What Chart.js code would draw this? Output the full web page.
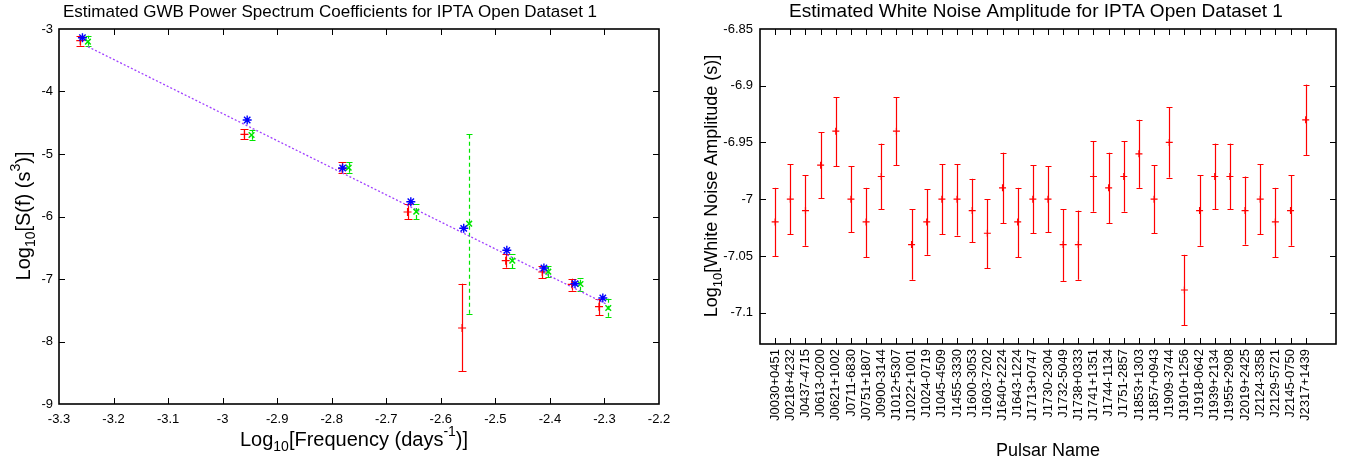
<!DOCTYPE html>
<html>
<head>
<meta charset="utf-8">
<script src="https://cdn.jsdelivr.net/npm/chart.js@4.4.1/dist/chart.umd.min.js"></script>
<style>
  html, body { margin:0; padding:0; background:#fff; }
  #wrap { position:relative; width:1357px; height:465px; overflow:hidden; }
  canvas { position:absolute; top:0; }
  #cL { left:0; }
  #cR { left:680px; }
</style>
</head>
<body>
<div id="wrap">
  <canvas id="cL" width="680" height="465"></canvas>
  <canvas id="cR" width="677" height="465"></canvas>
</div>
<script>
// ---------------- Left chart data (log10 frequency vs log10 S(f)) ----------------
const redX   = [-3.261, -2.960, -2.781, -2.661, -2.561, -2.481, -2.414, -2.360, -2.310];
const redY   = [-3.187, -4.685, -5.235, -5.928, -7.784, -6.707, -6.888, -7.085, -7.443];
const redLo  = [-3.267, -4.760, -5.309, -6.040, -8.477, -6.819, -6.984, -7.187, -7.581];
const redHi  = [-3.107, -4.605, -5.133, -5.806, -7.075, -6.605, -6.792, -6.995, -7.325];

const blueX  = [-3.257, -2.955, -2.780, -2.655, -2.558, -2.479, -2.411, -2.354, -2.303];
const blueY  = [-3.139, -4.456, -5.224, -5.763, -6.189, -6.541, -6.824, -7.075, -7.304];

const greenX  = [-3.247, -2.947, -2.769, -2.645, -2.548, -2.469, -2.403, -2.344, -2.293];
const greenY  = [-3.203, -4.696, -5.219, -5.923, -6.115, -6.707, -6.883, -7.080, -7.464];
const greenLo = [-3.267, -4.770, -5.300, -6.040, -7.555, -6.824, -6.971, -7.187, -7.603];
const greenHi = [-3.107, -4.610, -5.133, -5.800, -4.675, -6.600, -6.787, -6.989, -7.315];

const fitX = [-3.247, -2.296];
const fitY = [-3.283, -7.404];

const xTicksL = [-3.3, -3.2, -3.1, -3.0, -2.9, -2.8, -2.7, -2.6, -2.5, -2.4, -2.3, -2.2];
const yTicksL = [-9, -8, -7, -6, -5, -4, -3];

// ---------------- Right chart data (white noise amplitude per pulsar) ----------------
const pulsars = ["J0030+0451","J0218+4232","J0437-4715","J0613-0200","J0621+1002","J0711-6830",
  "J0751+1807","J0900-3144","J1012+5307","J1022+1001","J1024-0719","J1045-4509","J1455-3330",
  "J1600-3053","J1603-7202","J1640+2224","J1643-1224","J1713+0747","J1730-2304","J1732-5049",
  "J1738+0333","J1741+1351","J1744-1134","J1751-2857","J1853+1303","J1857+0943","J1909-3744",
  "J1910+1256","J1918-0642","J1939+2134","J1955+2908","J2019+2425","J2124-3358","J2129-5721",
  "J2145-0750","J2317+1439"];
const wnVal = [-7.02, -7.00, -7.01, -6.97, -6.94, -7.00, -7.02, -6.98, -6.94, -7.04, -7.02, -7.00,
  -7.00, -7.01, -7.03, -6.99, -7.02, -7.00, -7.00, -7.04, -7.04, -6.98, -6.99, -6.98, -6.96, -7.00,
  -6.95, -7.08, -7.01, -6.98, -6.98, -7.01, -7.00, -7.02, -7.01, -6.93];
const wnHi = [-6.990, -6.969, -6.979, -6.941, -6.910, -6.971, -6.990, -6.951, -6.910, -7.009, -6.991, -6.969,
  -6.969, -6.982, -7.000, -6.959, -6.990, -6.970, -6.971, -7.009, -7.010, -6.949, -6.959, -6.949, -6.930, -6.970,
  -6.919, -7.049, -6.979, -6.951, -6.951, -6.980, -6.969, -6.990, -6.979, -6.899];
const wnLo = [-7.050, -7.031, -7.041, -6.999, -6.971, -7.029, -7.051, -7.009, -6.970, -7.071, -7.049, -7.031,
  -7.032, -7.038, -7.061, -7.021, -7.051, -7.030, -7.029, -7.072, -7.071, -7.011, -7.021, -7.011, -6.990, -7.030,
  -6.981, -7.111, -7.041, -7.009, -7.009, -7.040, -7.031, -7.051, -7.041, -6.961];
const yTicksR = [-7.1, -7.05, -7.0, -6.95, -6.9, -6.85];

// ---------------- Texts ----------------
const titleL = "Estimated GWB Power Spectrum Coefficients for IPTA Open Dataset 1";
const titleR = "Estimated White Noise Amplitude for IPTA Open Dataset 1";
const xTitleL = [{t:"Log"},{t:"10",sub:true},{t:"[Frequency (days"},{t:"-1",sup:true},{t:")]"}];
const yTitleL = [{t:"Log"},{t:"10",sub:true},{t:"[S(f) (s"},{t:"3",sup:true},{t:")]"}];
const xTitleR = [{t:"Pulsar Name"}];
const yTitleR = [{t:"Log"},{t:"10",sub:true},{t:"[White Noise Amplitude (s)]"}];

const FONT = "'Liberation Sans', Arial, Helvetica, sans-serif";

function fmt(v){ return String(Number(v.toFixed(2))); }
function pts(xs, ys){ return xs.map((x,i)=>({x:x, y:ys[i]})); }

function drawRich(ctx, segs, x, y, size, rotate){
  ctx.save();
  ctx.translate(x, y);
  if (rotate) ctx.rotate(-Math.PI/2);
  ctx.textBaseline = 'middle';
  ctx.textAlign = 'left';
  ctx.fillStyle = '#000';
  const ws = segs.map(s => { ctx.font = ((s.sub||s.sup)? Math.round(size*0.7) : size) + 'px ' + FONT; return ctx.measureText(s.t).width; });
  let cx = -ws.reduce((a,b)=>a+b,0)/2;
  segs.forEach((s,i) => {
    ctx.font = ((s.sub||s.sup)? Math.round(size*0.7) : size) + 'px ' + FONT;
    const dy = s.sub ? size*0.38 : (s.sup ? -size*0.4 : 0);
    ctx.fillText(s.t, cx, dy);
    cx += ws[i];
  });
  ctx.restore();
}

// error bars drawn through the chart's scales
const errorBars = {
  id: 'errorBars',
  beforeDatasetsDraw(chart){
    const ctx = chart.ctx, xs = chart.scales.x, ys = chart.scales.y;
    chart.data.datasets.forEach(ds => {
      if (!ds.errLo) return;
      ctx.save();
      ctx.strokeStyle = ds.borderColor;
      ctx.lineWidth = ds.errWidth || 1;
      ctx.setLineDash(ds.errDash || []);
      const cap = ds.capHalf || 3;
      ds.data.forEach((p, i) => {
        const x = Math.round(xs.getPixelForValue(p.x)) + 0.5;
        const y1 = ys.getPixelForValue(ds.errLo[i]);
        const y2 = ys.getPixelForValue(ds.errHi[i]);
        ctx.beginPath();
        ctx.moveTo(x, y1); ctx.lineTo(x, y2);
        ctx.stroke();
        ctx.setLineDash([]);
        ctx.beginPath();
        ctx.moveTo(x-cap, Math.round(y1)+0.5); ctx.lineTo(x+cap, Math.round(y1)+0.5);
        ctx.moveTo(x-cap, Math.round(y2)+0.5); ctx.lineTo(x+cap, Math.round(y2)+0.5);
        ctx.stroke();
        ctx.setLineDash(ds.errDash || []);
      });
      ctx.restore();
    });
  }
};

// gnuplot-like frame with inward ticks on all four sides + texts
function framePlugin(cfg){
  return {
    id: 'frame',
    afterDraw(chart){
      const ctx = chart.ctx, a = chart.chartArea, xs = chart.scales.x, ys = chart.scales.y;
      ctx.save();
      ctx.strokeStyle = '#000';
      ctx.lineWidth = 1;
      const tl = cfg.tickLen;
      ctx.beginPath();
      xs.ticks.forEach(t => {
        const x = Math.round(xs.getPixelForValue(t.value)) + 0.5;
        if (x < a.left + 1 || x > a.right - 1) return;
        ctx.moveTo(x, a.bottom); ctx.lineTo(x, a.bottom - tl);
        ctx.moveTo(x, a.top); ctx.lineTo(x, a.top + tl);
      });
      ys.ticks.forEach(t => {
        const y = Math.round(ys.getPixelForValue(t.value)) + 0.5;
        if (y < a.top + 1 || y > a.bottom - 1) return;
        ctx.moveTo(a.left, y); ctx.lineTo(a.left + tl, y);
        ctx.moveTo(a.right, y); ctx.lineTo(a.right - tl, y);
      });
      ctx.stroke();
      ctx.lineWidth = 1.6;
      ctx.strokeRect(a.left, a.top, a.right - a.left, a.bottom - a.top);
      ctx.restore();
      // texts
      ctx.save();
      ctx.fillStyle = '#000';
      ctx.textAlign = 'center';
      ctx.textBaseline = 'middle';
      ctx.font = cfg.titleSize + 'px ' + FONT;
      ctx.fillText(cfg.title, cfg.titleX, cfg.titleY);
      ctx.restore();
      drawRich(ctx, cfg.xTitle, cfg.xTitleX, cfg.xTitleY, cfg.axSize, false);
      drawRich(ctx, cfg.yTitle, cfg.yTitleX, cfg.yTitleY, cfg.axSize, true);
    }
  };
}

const tickFont = {family: FONT, size: 13};

// ---------------- Left chart ----------------
new Chart(document.getElementById('cL'), {
  type: 'scatter',
  data: { datasets: [
    { data: pts(blueX, blueY), borderColor:'#0000ff', backgroundColor:'#0000ff', pointStyle:'star', pointRadius:4.5, borderWidth:1.4 },
    { data: pts(redX, redY), borderColor:'#ff0000', backgroundColor:'#ff0000', pointStyle:'cross', pointRadius:4, borderWidth:1.2,
      errLo: redLo, errHi: redHi, capHalf: 4, errWidth: 1.2 },
    { data: pts(greenX, greenY), borderColor:'#00e600', backgroundColor:'#00e600', pointStyle:'crossRot', pointRadius:4, borderWidth:1.5,
      errLo: greenLo, errHi: greenHi, capHalf: 3, errWidth: 1.2, errDash:[4,3] },
    { data: pts(fitX, fitY), showLine:true, borderColor:'#a040ff', borderWidth:1.3, borderDash:[2,2], pointRadius:0 }
  ]},
  options: {
    responsive:false, animation:false, events:[],
    layout:{ padding:{ left:0, top:29, right:21, bottom:0 } },
    plugins:{ legend:{display:false}, title:{display:false}, tooltip:{enabled:false} },
    scales:{
      x:{ type:'linear', min:-3.3, max:-2.2,
          afterBuildTicks: s => { s.ticks = xTicksL.map(v => ({value:v})); },
          afterFit: s => { s.height = 61; },
          ticks:{ callback: v => fmt(v), font: tickFont, color:'#000', padding:8, maxRotation:0, autoSkip:false },
          grid:{ display:false, drawTicks:false }, border:{ display:false } },
      y:{ type:'linear', min:-9, max:-3,
          afterBuildTicks: s => { s.ticks = yTicksL.map(v => ({value:v})); },
          afterFit: s => { s.width = 59; },
          ticks:{ callback: v => fmt(v), font: tickFont, color:'#000', padding:6, autoSkip:false },
          grid:{ display:false, drawTicks:false }, border:{ display:false } }
    }
  },
  plugins:[ errorBars, framePlugin({ tickLen:6, title:titleL, titleX:330, titleY:12, titleSize:17,
      xTitle:xTitleL, xTitleX:354, xTitleY:440, yTitle:yTitleL, yTitleX:24, yTitleY:216, axSize:20 }) ]
});

// ---------------- Right chart ----------------
new Chart(document.getElementById('cR'), {
  type: 'scatter',
  data: { datasets: [
    { data: wnVal.map((v,i)=>({x:i, y:v})), borderColor:'#ff0000', backgroundColor:'#ff0000', pointStyle:'cross', pointRadius:3.5, borderWidth:1.2,
      errLo: wnLo, errHi: wnHi, capHalf: 3, errWidth: 1.2 }
  ]},
  options: {
    responsive:false, animation:false, events:[],
    layout:{ padding:{ left:0, top:29, right:21, bottom:0 } },
    plugins:{ legend:{display:false}, title:{display:false}, tooltip:{enabled:false} },
    scales:{
      x:{ type:'linear', min:-1, max:37,
          afterBuildTicks: s => { s.ticks = pulsars.map((n,i) => ({value:i})); },
          afterFit: s => { s.height = 121; },
          ticks:{ callback: v => pulsars[v], font: tickFont, color:'#000', padding:5, minRotation:90, maxRotation:90, autoSkip:false },
          grid:{ display:false, drawTicks:false }, border:{ display:false } },
      y:{ type:'linear', min:-7.1276, max:-6.85,
          afterBuildTicks: s => { s.ticks = yTicksR.map(v => ({value:v})); },
          afterFit: s => { s.width = 80; },
          ticks:{ callback: v => fmt(v), font: tickFont, color:'#000', padding:7, autoSkip:false },
          grid:{ display:false, drawTicks:false }, border:{ display:false } }
    }
  },
  plugins:[ errorBars, framePlugin({ tickLen:6, title:titleR, titleX:356, titleY:12, titleSize:19,
      xTitle:xTitleR, xTitleX:368, xTitleY:451, yTitle:yTitleR, yTitleX:32, yTitleY:186, axSize:18 }) ]
});
</script>
</body>
</html>
